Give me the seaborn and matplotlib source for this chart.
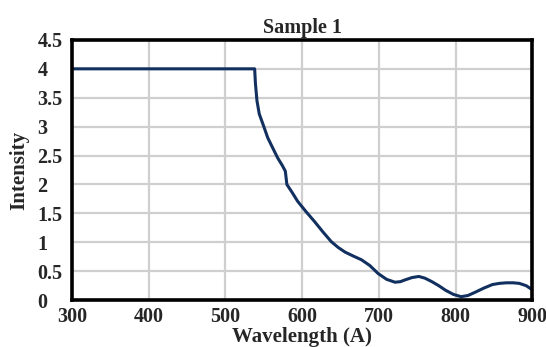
import pandas as pd
import matplotlib
matplotlib.use("Agg")
import matplotlib.pyplot as plt
import seaborn as sns

# ---- data ----
wavelength = [300, 400, 500, 538, 539, 541, 544, 550, 555, 562, 568, 574, 578, 580,
              587, 594, 605, 616, 627, 638, 647, 656, 667, 677, 688, 699, 710,
              721, 728, 734, 743, 752, 760, 769, 778, 787, 797, 807, 816, 826,
              837, 848, 857, 866, 875, 883, 892, 901]
intensity = [4.0, 4.0, 4.0, 4.0, 3.75, 3.45, 3.22, 3.0, 2.81, 2.62, 2.46, 2.33, 2.23, 2.0,
             1.86, 1.71, 1.53, 1.36, 1.18, 1.01, 0.91, 0.83, 0.76, 0.70, 0.60, 0.46, 0.36,
             0.31, 0.32, 0.35, 0.39, 0.41, 0.38, 0.32, 0.25, 0.17, 0.10, 0.06, 0.08, 0.14,
             0.21, 0.27, 0.29, 0.30, 0.30, 0.29, 0.25, 0.17]
yticks = [0, 0.5, 1, 1.5, 2, 2.5, 3, 3.5, 4, 4.5]

df = pd.DataFrame({"Wavelength": wavelength, "Intensity": intensity})

sns.set_style("whitegrid")
plt.rcParams["font.family"] = ["Liberation Serif", "DejaVu Serif"]
plt.rcParams["font.weight"] = "bold"

fig = plt.figure(figsize=(5.46, 3.47), dpi=100)
ax = fig.add_axes([0.132, 0.135, 0.843, 0.75])

sns.lineplot(x="Wavelength", y="Intensity", data=df, ax=ax,
             color="#12305f", linewidth=2.2)

ax.set_xlim(300, 900)
ax.set_ylim(0, 4.5)
ax.set_xticks(range(300, 901, 100))
ax.set_yticks(yticks)
ax.set_yticklabels([f"{v:g}" for v in yticks])

ax.grid(True, color="#cfcfcf", linewidth=1.6)
for s in ax.spines.values():
    s.set_visible(True)
    s.set_color("black")
    s.set_linewidth(2.6)
ax.tick_params(axis="x", length=0, labelsize=14.5, pad=5)
ax.tick_params(axis="y", length=0, labelsize=14.5, pad=25)
for lbl in ax.get_xticklabels() + ax.get_yticklabels():
    lbl.set_fontweight("bold")
for lbl in ax.get_yticklabels():
    lbl.set_horizontalalignment("left")

ax.set_title("Sample 1", fontsize=14.5, fontweight="bold", pad=5)
ax.set_xlabel("Wavelength (A)", fontsize=15, fontweight="bold", labelpad=0)
ax.set_ylabel("Intensity", fontsize=15, fontweight="bold", labelpad=6)

plt.savefig("out.png", dpi=100)
